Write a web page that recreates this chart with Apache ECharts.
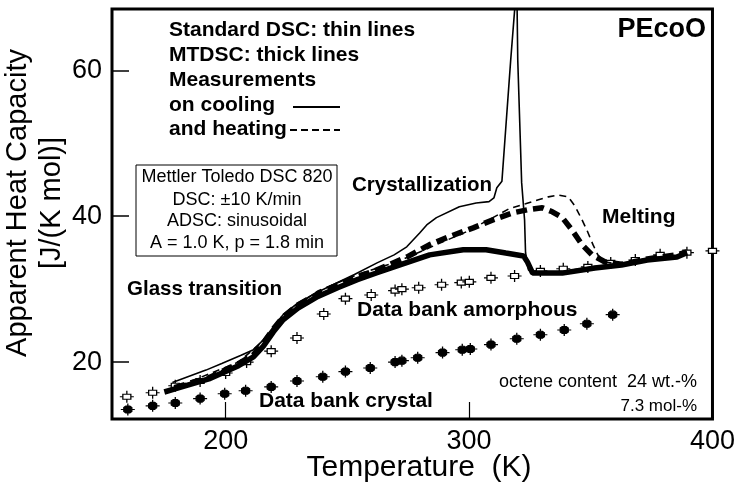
<!DOCTYPE html>
<html><head><meta charset="utf-8">
<script src="https://cdn.jsdelivr.net/npm/echarts@6/dist/echarts.min.js"></script>
<style>html,body{margin:0;padding:0;background:#fff}#c{width:738px;height:486px}</style>
</head><body><div id="c"></div>
<script>
// ---- data ----
const xTicks = [200, 300, 400];
const yTicks = [20, 40, 60];

const amorphT  = [159.4,170.0,179.3,189.5,200.0,208.6,218.7,229.3,240.3,249.2,259.8,269.6,272.4,279.3,288.7,296.8,300.1,309.0,318.7,329.3,338.7,348.8,358.2,368.3,378.5,389.5,400.0];
const amorphCp = [15.25,15.8,16.75,17.4,18.5,20.0,21.5,23.3,26.6,28.7,29.2,29.8,30.0,30.2,30.6,30.9,31.0,31.55,31.8,32.5,32.8,33.05,33.6,34.0,34.7,35.0,35.25];

const crystT  = [159.8,170.0,179.3,189.5,199.6,208.2,218.7,229.3,239.9,249.2,259.4,269.6,272.4,278.9,289.1,297.2,300.5,309.0,319.6,329.3,339.1,348.4,359.0];
const crystCp = [13.5,14.0,14.4,15.0,15.66,16.07,16.6,17.4,18.0,18.7,19.2,20.0,20.2,20.6,21.3,21.7,21.8,22.4,23.2,23.75,24.4,25.25,26.5];

const mtCoolT  = [174.8,180.9,193.1,205.3,211.4,215.5,219.6,223.6,229.7,237.9,246.0,254.1,262.2,270.4,283.8,297.6,307.0,315.1,322.4,324.0,326.1,338.3,351.7,362.6,373.2,385.4,389.5];
const mtCoolCp = [15.9,16.5,17.7,19.5,20.7,22.2,24.15,25.8,27.4,29.0,30.2,31.3,32.25,33.2,34.7,35.4,35.4,34.95,34.55,33.7,32.2,32.2,32.9,33.3,34.0,34.4,35.0];

const mtHeatT  = [178.9,193.1,205.3,211.4,215.5,219.6,223.6,229.7,237.9,246.0,254.1,262.2,274.4,283.8,291.9,301.7,309.8,317.9,324.4,330.1,334.2,338.3,342.3,346.4,350.5,355.7,362.6,373.2,385.4,389.5];
const mtHeatCp = [16.5,17.85,19.8,21.0,22.65,24.55,26.2,27.85,29.35,30.6,31.7,32.65,34.4,36.1,37.2,38.4,39.5,40.45,40.9,41.15,40.6,39.8,38.1,36.1,34.7,33.75,33.4,34.15,34.7,35.1];

const dscCoolT  = [178.1,191.9,198.4,206.1,211.4,215.5,219.6,223.6,229.7,237.9,246.0,252.9,262.2,269.2,274.4,279.7,282.6,286.6,296.0,302.9,308.2,310.2,311.4,313.5,315.1,317.1,319.6,320.0,321.6,322.8,323.2,324.4,326.1,338.3,351.7,362.6,373.2,385.4,389.5];
const dscCoolCp = [17.2,18.9,19.8,20.9,21.7,23.05,24.8,26.5,28.1,29.6,30.9,32.0,33.6,34.7,35.8,37.7,38.8,39.8,41.3,41.8,42.0,42.5,43.9,44.8,52.2,61.4,72.0,61.4,44.6,39.5,35.0,32.65,32.2,32.4,33.1,33.5,34.2,34.6,35.1];

const dscHeatT  = [181.0,205.3,215.5,223.6,237.9,254.1,270.4,286.6,298.8,309.8,316.3,323.2,328.5,332.6,336.6,340.7,343.5,346.4,348.4,350.9,352.9,355.7,362.6,373.2,385.4,389.5];
const dscHeatCp = [16.75,20.0,22.9,26.5,29.75,32.0,33.75,36.1,37.85,39.8,41.0,41.7,42.25,42.65,42.9,42.65,41.4,39.5,38.1,36.1,34.7,33.75,33.3,34.0,34.5,35.0];

// ---- chart ----
const FONT = '"Liberation Sans", Arial, Helvetica, sans-serif';
const zip = (a, b) => a.map((v, i) => [v, b[i]]);
const chart = echarts.init(document.getElementById('c'), null, {renderer: 'canvas'});

const lineS = (name, t, c, width, dash) => ({
  type: 'line', name, data: zip(t, c), showSymbol: false, silent: true,
  lineStyle: {color: '#000', width, type: dash || 'solid', opacity: 1}, clip: true
});

const txt = (text, x, y, size, weight, align, extra) => Object.assign({
  type: 'text', x, y, silent: true,
  style: {text, fontSize: size, fontWeight: weight || 'normal', fontFamily: FONT, fill: '#000',
          align: align || 'left', verticalAlign: 'middle'}
}, extra || {});

chart.setOption({
  animation: false,
  backgroundColor: '#fff',
  grid: {left: 112, top: 9, right: 21, bottom: 67, show: true, borderColor: '#000', borderWidth: 3},
  xAxis: {
    type: 'value', min: 153.3, max: 400,
    axisLine: {show: false}, splitLine: {show: false},
    axisTick: {inside: true, length: 17, customValues: xTicks, lineStyle: {color: '#000', width: 1.2}},
    axisLabel: {customValues: xTicks, fontSize: 27, color: '#000', fontFamily: FONT, margin: 9}
  },
  yAxis: {
    type: 'value', min: 12.2, max: 68.4,
    axisLine: {show: false}, splitLine: {show: false},
    axisTick: {inside: true, length: 17, customValues: yTicks, lineStyle: {color: '#000', width: 1.5}},
    axisLabel: {customValues: yTicks, fontSize: 27, color: '#000', fontFamily: FONT, margin: 10}
  },
  series: [
    lineS('MTDSC cooling', mtCoolT, mtCoolCp, 5.5),
    lineS('MTDSC heating', mtHeatT, mtHeatCp, 5.5, [11, 6]),
    lineS('DSC cooling', dscCoolT, dscCoolCp, 1.6),
    lineS('DSC heating', dscHeatT, dscHeatCp, 1.6, [7, 5]),
    {
      type: 'scatter', name: 'Data bank amorphous', data: zip(amorphT, amorphCp), clip: false, silent: true,
      symbol: 'path://M3,3.5H11V8.5H3Z M0,6H3 M11,6H14 M7,0V3.5 M7,8.5V12',
      symbolSize: [14, 12],
      itemStyle: {color: '#fff', borderColor: '#000', borderWidth: 1.2, opacity: 1}
    },
    {
      type: 'scatter', name: 'Data bank crystal', data: zip(crystT, crystCp), clip: false, silent: true,
      symbol: 'path://M3,4L5,2.5H9L11,4V8L9,9.5H5L3,8Z M0,6H3 M11,6H14 M7,0V2.5 M7,9.5V12',
      symbolSize: [14, 12],
      itemStyle: {color: '#000', borderColor: '#000', borderWidth: 1.2, opacity: 1}
    }
  ],
  graphic: {elements: [
    txt('Standard DSC: thin lines', 169, 30, 21, 'bold'),
    txt('MTDSC: thick lines', 169, 55, 21, 'bold'),
    txt('Measurements', 169, 80, 21, 'bold'),
    txt('on cooling', 169, 105, 21, 'bold'),
    txt('and heating', 169, 129, 21, 'bold'),
    {type: 'line', silent: true, shape: {x1: 293, y1: 107, x2: 340, y2: 107}, style: {stroke: '#000', lineWidth: 2}},
    {type: 'line', silent: true, shape: {x1: 290, y1: 130, x2: 340, y2: 130}, style: {stroke: '#000', lineWidth: 2, lineDash: [7, 4]}},
    txt('PEcoO', 706, 30, 27, 'bold', 'right'),
    {type: 'rect', silent: true, shape: {x: 136, y: 165, width: 201, height: 91}, style: {fill: '#fff', stroke: '#000', lineWidth: 1}},
    txt('Mettler Toledo DSC 820', 237, 177, 18, 'normal', 'center'),
    txt('DSC: \u00b110 K/min', 237, 200, 18, 'normal', 'center'),
    txt('ADSC: sinusoidal', 237, 221, 18, 'normal', 'center'),
    txt('A = 1.0 K, p = 1.8 min', 237, 243, 18, 'normal', 'center'),
    txt('Crystallization', 352, 185, 20.5, 'bold'),
    txt('Melting', 602, 217, 21, 'bold'),
    txt('Glass transition', 127, 289, 20.5, 'bold'),
    txt('Data bank amorphous', 357, 310, 21, 'bold'),
    txt('Data bank crystal', 259, 401, 21, 'bold'),
    txt('octene content  24 wt.-%', 697, 382, 18, 'normal', 'right'),
    txt('7.3 mol-%', 697, 406, 17, 'normal', 'right'),
    txt('Temperature  (K)', 419, 468, 30, 'normal', 'center'),
    txt('Apparent Heat Capacity\n[J/(K mol)]', 35, 203, 29, 'normal', 'center',
        {rotation: Math.PI / 2, style: {text: 'Apparent Heat Capacity\n[J/(K mol)]', fontSize: 29, fontFamily: FONT, fill: '#000', align: 'center', verticalAlign: 'middle', lineHeight: 34}})
  ]}
});
</script></body></html>
